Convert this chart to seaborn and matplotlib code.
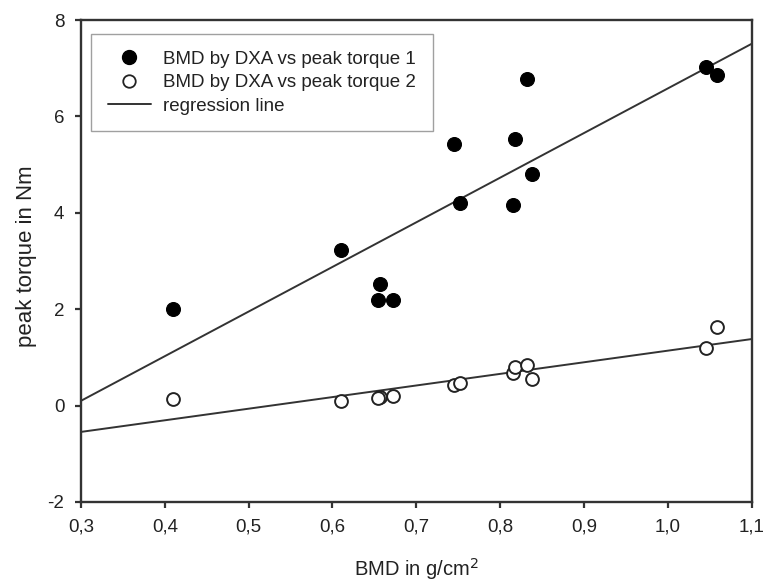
import numpy as np
import pandas as pd
import matplotlib
matplotlib.use("Agg")
import matplotlib.pyplot as plt
from matplotlib.lines import Line2D
import seaborn as sns

# BMD by DXA (g/cm2) and peak torque readings
bmd = [0.41, 0.61, 0.657, 0.654, 0.672, 0.745, 0.752, 0.815, 0.818, 0.832, 0.838, 1.046, 1.059]
torque1 = [2.0, 3.22, 2.52, 2.19, 2.19, 5.43, 4.2, 4.17, 5.53, 6.78, 4.81, 7.02, 6.86]
torque2 = [0.14, 0.1, 0.18, 0.15, 0.2, 0.43, 0.47, 0.68, 0.8, 0.84, 0.55, 1.2, 1.63]

x_ticks = [0.3, 0.4, 0.5, 0.6, 0.7, 0.8, 0.9, 1.0, 1.1]
x_tick_labels = ["0,3", "0,4", "0,5", "0,6", "0,7", "0,8", "0,9", "1,0", "1,1"]
y_ticks = [-2, 0, 2, 4, 6, 8]

df = pd.DataFrame({"bmd": bmd, "t1": torque1, "t2": torque2})

sns.set_style("ticks")
plt.rcParams['font.family'] = ['Liberation Sans', 'DejaVu Sans']
plt.rcParams['axes.unicode_minus'] = False

fig = plt.figure(figsize=(7.67, 5.85), dpi=100)
ax = fig.add_axes([0.1056, 0.1419, 0.8744, 0.8239])
ax.set_xlim(0.3, 1.1)
ax.set_ylim(-2, 8)

line_kws = {"color": "#333333", "lw": 1.4}
# regression lines over the full x range
sns.regplot(data=df, x="bmd", y="t1", ax=ax, ci=None, truncate=False, scatter=False, line_kws=line_kws)
sns.regplot(data=df, x="bmd", y="t2", ax=ax, ci=None, truncate=False, scatter=False, line_kws=line_kws)

sns.scatterplot(data=df, x="bmd", y="t1", ax=ax, color="black", edgecolor="black", s=100, zorder=3)
sns.scatterplot(data=df, x="bmd", y="t2", ax=ax, facecolor="white", edgecolor="#222222",
                linewidth=1.4, s=85, zorder=3)

ax.set_xlim(0.3, 1.1)
ax.set_ylim(-2, 8)
ax.set_xticks(x_ticks)
ax.set_xticklabels(x_tick_labels)
ax.set_yticks(y_ticks)
ax.tick_params(axis="both", direction="out", length=4, width=1.6, color="#333333",
               labelsize=13.5, pad=8, labelcolor="#222222")
ax.tick_params(top=False, right=False)
for sp in ax.spines.values():
    sp.set_visible(True)
    sp.set_color("#333333")
    sp.set_linewidth(1.7)

ax.set_xlabel("BMD in g/cm$^2$", fontsize=14.5, color="#222222")
ax.set_ylabel("peak torque in Nm", fontsize=16, color="#222222")
ax.xaxis.set_label_coords(0.5, -0.113)
ax.yaxis.set_label_coords(-0.066, 0.51)

handles = [
    Line2D([], [], marker="o", ls="none", color="black", markersize=10),
    Line2D([], [], marker="o", ls="none", markerfacecolor="white", markeredgecolor="#222222",
           markeredgewidth=1.3, markersize=9),
    Line2D([], [], color="#333333", lw=1.4),
]
labels = ["BMD by DXA vs peak torque 1", "BMD by DXA vs peak torque 2", "regression line"]
leg = ax.legend(handles, labels, loc="upper left", bbox_to_anchor=(0.015, 0.971), borderaxespad=0,
                fontsize=13.5, frameon=True, fancybox=False, edgecolor="#888888", borderpad=0.9,
                handlelength=2.3, labelspacing=0.33, handletextpad=0.65)
leg.get_frame().set_linewidth(1.0)
for t in leg.get_texts():
    t.set_color("#222222")

fig.savefig("out.png", dpi=100)
